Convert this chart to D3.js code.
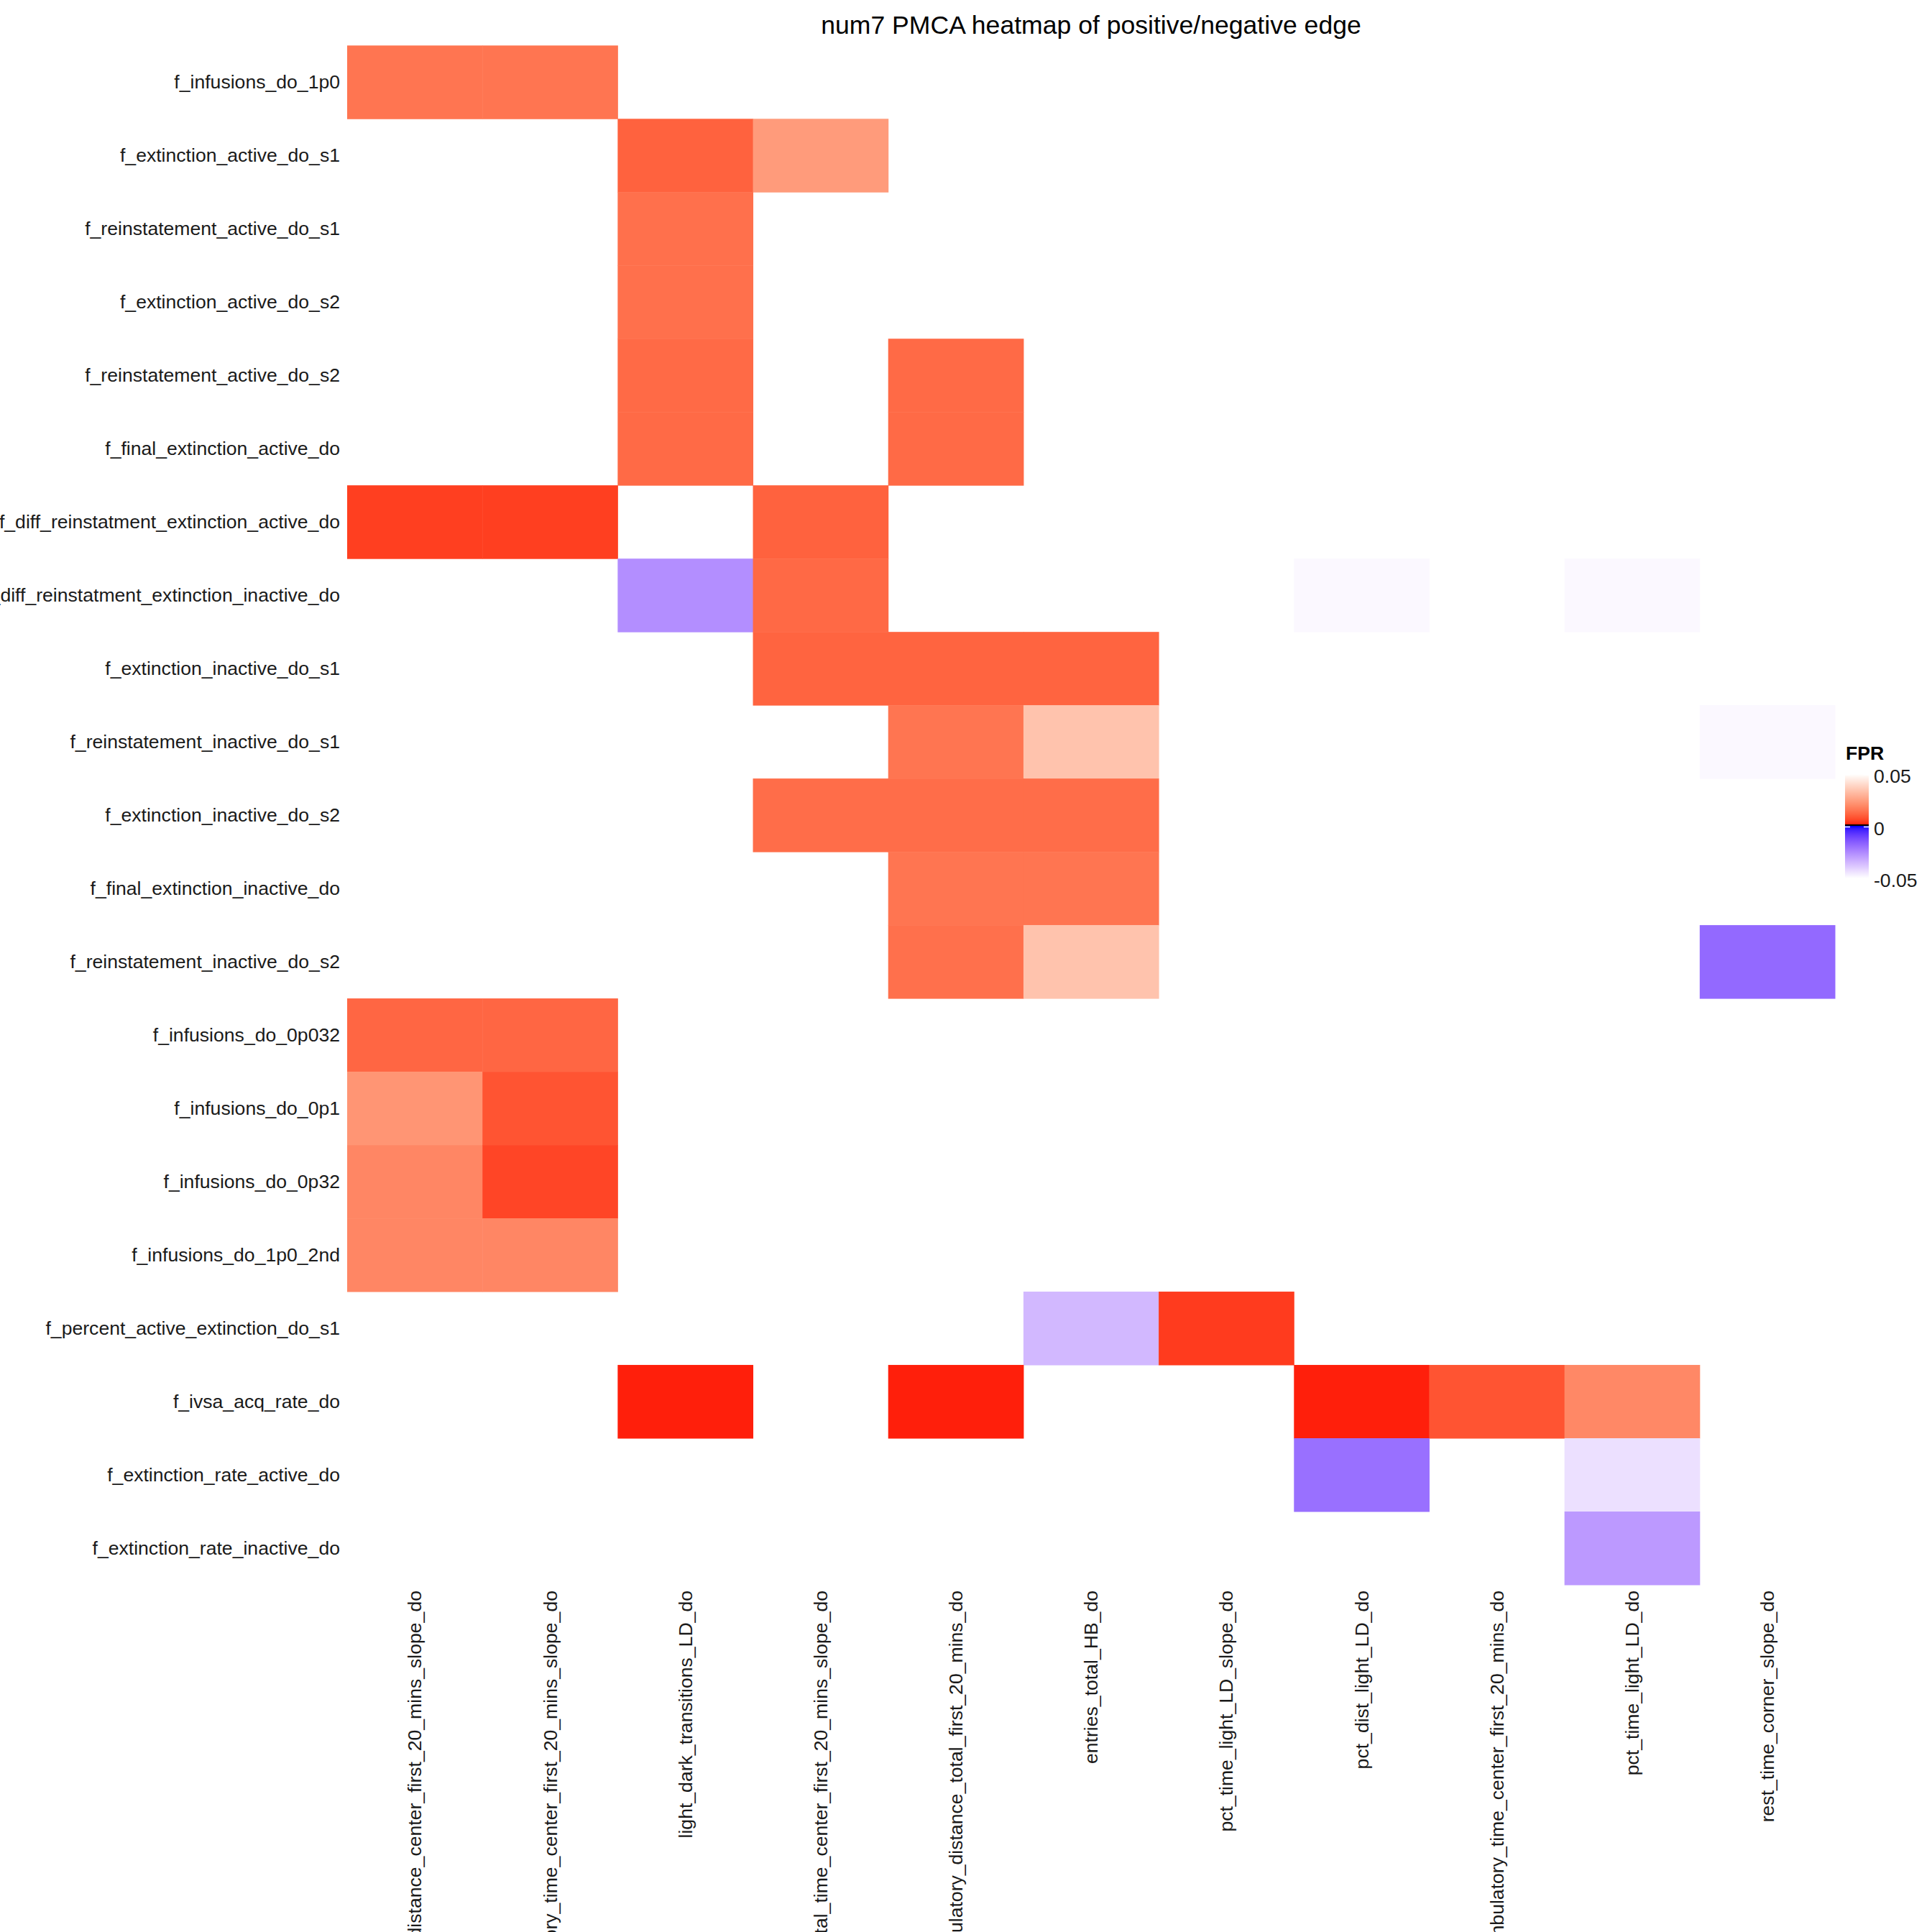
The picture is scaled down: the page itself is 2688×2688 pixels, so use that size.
<!DOCTYPE html>
<html>
<head>
<meta charset="utf-8">
<script src="https://cdn.jsdelivr.net/npm/d3@7"></script>
<style>
  html, body { margin: 0; padding: 0; background: #ffffff; }
  svg text { font-family: "Liberation Sans", Arial, Helvetica, sans-serif; }
</style>
</head>
<body>
<svg id="chart" width="2688" height="2688"></svg>
<script>
// ---------------- DATA ----------------
const chartTitle = "num7 PMCA heatmap of positive/negative edge";
const legendTitle = "FPR";

const rowLabels = [
  "f_infusions_do_1p0",
  "f_extinction_active_do_s1",
  "f_reinstatement_active_do_s1",
  "f_extinction_active_do_s2",
  "f_reinstatement_active_do_s2",
  "f_final_extinction_active_do",
  "f_diff_reinstatment_extinction_active_do",
  "f_diff_reinstatment_extinction_inactive_do",
  "f_extinction_inactive_do_s1",
  "f_reinstatement_inactive_do_s1",
  "f_extinction_inactive_do_s2",
  "f_final_extinction_inactive_do",
  "f_reinstatement_inactive_do_s2",
  "f_infusions_do_0p032",
  "f_infusions_do_0p1",
  "f_infusions_do_0p32",
  "f_infusions_do_1p0_2nd",
  "f_percent_active_extinction_do_s1",
  "f_ivsa_acq_rate_do",
  "f_extinction_rate_active_do",
  "f_extinction_rate_inactive_do"
];

const colLabels = [
  "ambulatory_distance_center_first_20_mins_slope_do",
  "ambulatory_time_center_first_20_mins_slope_do",
  "light_dark_transitions_LD_do",
  "ambulatory_total_time_center_first_20_mins_slope_do",
  "ambulatory_distance_total_first_20_mins_do",
  "entries_total_HB_do",
  "pct_time_light_LD_slope_do",
  "pct_dist_light_LD_do",
  "ambulatory_time_center_first_20_mins_do",
  "pct_time_light_LD_do",
  "rest_time_corner_slope_do"
];

// FPR values (row, column) — null = no edge
const fprValues = [
  [0.0150, 0.0150, null,   null,   null,   null,   null,   null,   null,   null,   null],
  [null,   null,   0.0110, 0.0240, null,   null,   null,   null,   null,   null,   null],
  [null,   null,   0.0140, null,   null,   null,   null,   null,   null,   null,   null],
  [null,   null,   0.0140, null,   null,   null,   null,   null,   null,   null,   null],
  [null,   null,   0.0128, null,   0.0128, null,   null,   null,   null,   null,   null],
  [null,   null,   0.0128, null,   0.0128, null,   null,   null,   null,   null,   null],
  [0.0050, 0.0050, null,   0.0110, null,   null,   null,   null,   null,   null,   null],
  [null,   null,  -0.0260, 0.0125, null,   null,   null,  -0.0485, null,  -0.0485, null],
  [null,   null,   null,   0.0115, 0.0115, 0.0115, null,   null,   null,   null,   null],
  [null,   null,   null,   null,   0.0150, 0.0340, null,   null,   null,   null,  -0.0485],
  [null,   null,   null,   0.0133, 0.0133, 0.0133, null,   null,   null,   null,   null],
  [null,   null,   null,   null,   0.0150, 0.0150, null,   null,   null,   null,   null],
  [null,   null,   null,   null,   0.0140, 0.0340, null,   null,   null,   null,  -0.0180],
  [0.0120, 0.0120, null,   null,   null,   null,   null,   null,   null,   null,   null],
  [0.0225, 0.0085, null,   null,   null,   null,   null,   null,   null,   null,   null],
  [0.0190, 0.0060, null,   null,   null,   null,   null,   null,   null,   null,   null],
  [0.0190, 0.0190, null,   null,   null,   null,   null,   null,   null,   null,   null],
  [null,   null,   null,   null,   null,  -0.0350, 0.0045, null,   null,   null,   null],
  [null,   null,   0.0015, null,   0.0015, null,   null,   0.0015, 0.0085, 0.0195, null],
  [null,   null,   null,   null,   null,   null,   null,  -0.0195, null,  -0.0435, null],
  [null,   null,   null,   null,   null,   null,   null,   null,   null,  -0.0285, null]
];

const legendTicks = [0.05, 0, -0.05];
const legendTickLabels = ["0.05", "0", "-0.05"];

// ---------------- DRAW ----------------
const svg = d3.select("#chart");
svg.append("rect").attr("width", 2688).attr("height", 2688).attr("fill", "#ffffff");

const plot = { left: 483, right: 2553, top: 63.3, bottom: 2205 };

const x = d3.scaleBand().domain(colLabels).range([plot.left, plot.right]).padding(0);
const y = d3.scaleBand().domain(rowLabels).range([plot.top, plot.bottom]).padding(0);

const posInterp = d3.interpolateLab("#ff0000", "#ffffff");
const negInterp = d3.interpolateLab("#0000ff", "#ffffff");
const lim = 0.05;
function fillColor(v) {
  if (v >= 0) return posInterp(Math.min(v / lim, 1));
  return negInterp(Math.min(-v / lim, 1));
}

const cells = [];
fprValues.forEach((row, i) => row.forEach((v, j) => {
  if (v !== null) cells.push({ r: rowLabels[i], c: colLabels[j], v });
}));

svg.append("g").selectAll("rect").data(cells).join("rect")
  .attr("x", d => x(d.c))
  .attr("y", d => y(d.r))
  .attr("width", x.bandwidth() + 0.5)
  .attr("height", y.bandwidth() + 0.5)
  .attr("fill", d => fillColor(d.v));

// Y axis
const yAxis = svg.append("g")
  .attr("transform", `translate(${plot.left},0)`)
  .call(d3.axisLeft(y).tickSize(0).tickPadding(10));
yAxis.select(".domain").remove();
yAxis.selectAll("text")
  .attr("font-size", 26.6)
  .attr("fill", "#1a1a1a")
  .attr("font-family", "'Liberation Sans', Arial, sans-serif");

// X axis
const xAxis = svg.append("g")
  .attr("transform", `translate(0,${plot.bottom})`)
  .call(d3.axisBottom(x).tickSize(0).tickPadding(0));
xAxis.select(".domain").remove();
xAxis.selectAll("text")
  .attr("font-size", 26.6)
  .attr("fill", "#1a1a1a")
  .attr("font-family", "'Liberation Sans', Arial, sans-serif")
  .attr("text-anchor", "end")
  .attr("transform", "rotate(-90)")
  .attr("x", -8)
  .attr("y", 0)
  .attr("dy", "0.35em");

// Title
svg.append("text")
  .attr("x", (plot.left + plot.right) / 2)
  .attr("y", 47)
  .attr("text-anchor", "middle")
  .attr("font-size", 35.6)
  .attr("fill", "#000000")
  .text(chartTitle);

// Legend
const lg = { x: 2567, w: 33, top: 1077, bottom: 1222 };
const ly = d3.scaleLinear().domain([0.05, -0.05]).range([lg.top, lg.bottom]);

const defs = svg.append("defs");
const grad = defs.append("linearGradient")
  .attr("id", "fprGrad").attr("x1", 0).attr("y1", 0).attr("x2", 0).attr("y2", 1);
const nStops = 60;
d3.range(nStops + 1).forEach(k => {
  const v = 0.05 - 0.1 * k / nStops;
  const off = k / nStops;
  if (Math.abs(v) < 1e-9) {
    grad.append("stop").attr("offset", off).attr("stop-color", fillColor(0.0000001));
    grad.append("stop").attr("offset", off).attr("stop-color", fillColor(-0.0000001));
  } else {
    grad.append("stop").attr("offset", off).attr("stop-color", fillColor(v));
  }
});

svg.append("text")
  .attr("x", lg.x + 1)
  .attr("y", 1057)
  .attr("font-size", 26.6)
  .attr("font-weight", "bold")
  .attr("fill", "#000000")
  .text(legendTitle);

svg.append("rect")
  .attr("x", lg.x).attr("y", lg.top)
  .attr("width", lg.w).attr("height", lg.bottom - lg.top)
  .attr("fill", "url(#fprGrad)");

// zero line
svg.append("line")
  .attr("x1", lg.x).attr("x2", lg.x + lg.w)
  .attr("y1", ly(0) - 1.5).attr("y2", ly(0) - 1.5)
  .attr("stroke", "#000000").attr("stroke-width", 2);

// white tick marks
legendTicks.forEach(t => {
  svg.append("line").attr("x1", lg.x).attr("x2", lg.x + 7)
    .attr("y1", ly(t) + 1).attr("y2", ly(t) + 1).attr("stroke", "#ffffff").attr("stroke-width", 1.5);
  svg.append("line").attr("x1", lg.x + lg.w - 7).attr("x2", lg.x + lg.w)
    .attr("y1", ly(t) + 1).attr("y2", ly(t) + 1).attr("stroke", "#ffffff").attr("stroke-width", 1.5);
});

svg.append("g").selectAll("text").data(legendTicks).join("text")
  .attr("x", lg.x + lg.w + 7)
  .attr("y", d => ly(d) + 3)
  .attr("dy", "0.35em")
  .attr("font-size", 26.6)
  .attr("fill", "#1a1a1a")
  .text((d, i) => legendTickLabels[i]);
</script>
</body>
</html>
